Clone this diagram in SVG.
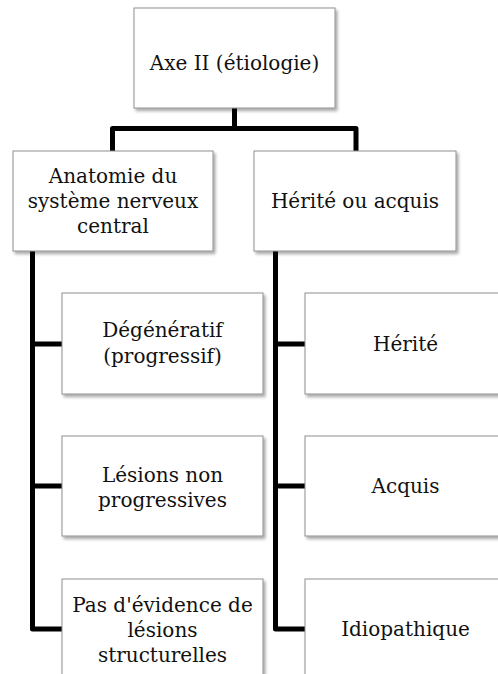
<svg xmlns="http://www.w3.org/2000/svg" width="498" height="674" viewBox="0 0 498 674">
<style>
.box{fill:#fff;stroke:#8f8f8f;stroke-width:1;filter:url(#sh)}
.t{font-family:"DejaVu Serif","Liberation Serif",serif;font-size:20px;fill:#111;text-anchor:middle}
.c{fill:none;stroke:#000;stroke-width:5;stroke-linejoin:round;stroke-linecap:butt}
</style>
<defs>
<filter id="sh" x="-10%" y="-10%" width="130%" height="130%">
<feDropShadow dx="2" dy="2.5" stdDeviation="1.5" flood-color="#000" flood-opacity="0.35"/>
</filter>
</defs>
<rect width="498" height="674" fill="#fff"/>
<g id="connectors">
<path class="c" d="M234.5 108 V128.5"/>
<path class="c" d="M112.5 151 V128.5 H356 V151"/>
<path class="c" d="M32.5 251 V629 H62"/>
<path class="c" d="M32.5 344 H62"/>
<path class="c" d="M32.5 486 H62"/>
<path class="c" d="M275.5 251 V629 H305"/>
<path class="c" d="M275.5 344 H305"/>
<path class="c" d="M275.5 486 H305"/>
</g>
<g id="axe2">
<rect class="box" x="134" y="8" width="201" height="100"/>
<text class="t" x="234.5" y="70">Axe II (étiologie)</text>
</g>
<g id="anatomie">
<rect class="box" x="13" y="151" width="200" height="100"/>
<text class="t" x="113" y="183">Anatomie du</text>
<text class="t" x="113" y="208">système nerveux</text>
<text class="t" x="113" y="233">central</text>
</g>
<g id="herite-acquis">
<rect class="box" x="254" y="151" width="202" height="100"/>
<text class="t" x="355" y="208">Hérité ou acquis</text>
</g>
<g id="degeneratif">
<rect class="box" x="62" y="293" width="201" height="101"/>
<text class="t" x="162.5" y="337">Dégénératif</text>
<text class="t" x="162.5" y="363">(progressif)</text>
</g>
<g id="lesions-non-prog">
<rect class="box" x="62" y="436" width="201" height="100"/>
<text class="t" x="162.5" y="482">Lésions non</text>
<text class="t" x="162.5" y="507">progressives</text>
</g>
<g id="pas-evidence">
<rect class="box" x="62" y="579" width="201" height="101"/>
<text class="t" x="162.5" y="612">Pas d'évidence de</text>
<text class="t" x="162.5" y="637">lésions</text>
<text class="t" x="162.5" y="662">structurelles</text>
</g>
<g id="herite">
<rect class="box" x="305" y="293" width="201" height="101"/>
<text class="t" x="405.5" y="351">Hérité</text>
</g>
<g id="acquis">
<rect class="box" x="305" y="436" width="201" height="100"/>
<text class="t" x="405.5" y="493">Acquis</text>
</g>
<g id="idiopathique">
<rect class="box" x="305" y="579" width="201" height="101"/>
<text class="t" x="405.5" y="636">Idiopathique</text>
</g>
</svg>
